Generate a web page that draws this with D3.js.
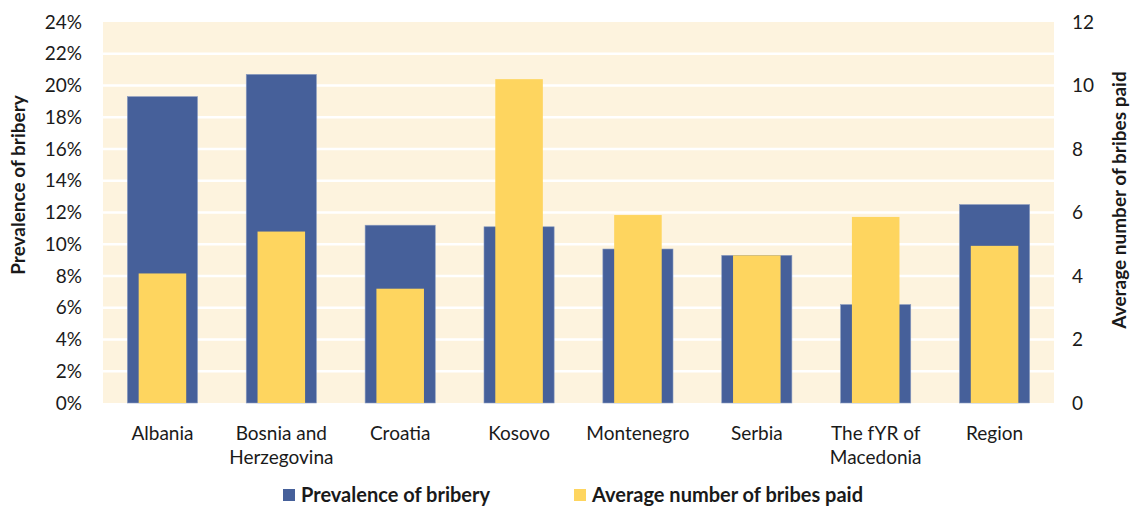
<!DOCTYPE html>
<html>
<head>
<meta charset="utf-8">
<script src="https://cdn.jsdelivr.net/npm/d3@7"></script>
<style>
  body { margin: 0; background: #fff; }
  text { font-family: Lato, "Open Sans", sans-serif; fill: #1a1a1a; }
</style>
</head>
<body>
<div id="chart"></div>
<script>
// data
var countries = ["Albania", "Bosnia and\nHerzegovina", "Croatia", "Kosovo", "Montenegro", "Serbia", "The fYR of\nMacedonia", "Region"];
var prevalence = [0.193, 0.207, 0.112, 0.111, 0.097, 0.093, 0.062, 0.125];
var avgBribes = [4.08, 5.4, 3.6, 10.2, 5.92, 4.65, 5.86, 4.95];
var leftTicks = d3.range(0, 0.2401, 0.02);
var rightTicks = [0, 2, 4, 6, 8, 10, 12];

var width = 1133, height = 509,
    margin = { left: 103, right: 79, top: 22, bottom: 106 };

var innerW = width - margin.left - margin.right,
    innerH = height - margin.top - margin.bottom;

function translate(x, y){
    return "translate(" + x + "," + y + ")";
}

var xScale = d3.scaleBand().domain(countries).range([0, innerW]);
var yLeft = d3.scaleLinear().domain([0, 0.24]).range([innerH, 0]);
var yRight = d3.scaleLinear().domain([0, 12]).range([innerH, 0]);

var svg = d3.select("#chart").append("svg")
    .attr("width", width)
    .attr("height", height);

var g = svg.append("g").attr("transform", translate(margin.left, margin.top));

// background + grid
g.append("rect")
    .attr("width", innerW)
    .attr("height", innerH)
    .attr("fill", "#fdf3de");

g.append("g").selectAll("line")
    .data(leftTicks.slice(1, -1))
    .enter().append("line")
    .attr("x1", 0).attr("x2", innerW)
    .attr("y1", function(d){ return yLeft(d); })
    .attr("y2", function(d){ return yLeft(d); })
    .attr("stroke", "#fff")
    .attr("stroke-width", 2.5);

var bw = xScale.bandwidth();

// prevalence bars (wide, behind)
g.append("g").selectAll("rect")
    .data(prevalence)
    .enter().append("rect")
    .attr("x", function(d, i){ return xScale(countries[i]) + bw * 0.205; })
    .attr("width", bw * 0.59)
    .attr("y", function(d){ return yLeft(d); })
    .attr("height", function(d){ return innerH - yLeft(d); })
    .attr("fill", "#46609a")
    .attr("stroke", "#8a9cc0")
    .attr("stroke-width", 0.6);

// average number of bribes (narrow, front)
g.append("g").selectAll("rect")
    .data(avgBribes)
    .enter().append("rect")
    .attr("x", function(d, i){ return xScale(countries[i]) + bw * 0.3; })
    .attr("width", bw * 0.4)
    .attr("y", function(d){ return yRight(d); })
    .attr("height", function(d){ return innerH - yRight(d); })
    .attr("fill", "#fed55f");

// left axis
var leftAxis = d3.axisLeft(yLeft)
    .tickValues(leftTicks)
    .tickFormat(d3.format(".0%"))
    .tickSize(0)
    .tickPadding(21);
var la = g.append("g").call(leftAxis);
la.select(".domain").remove();
la.selectAll("text").attr("font-size", 19).attr("font-family", null).attr("fill", "#1a1a1a");

// right axis
var rightAxis = d3.axisRight(yRight)
    .tickValues(rightTicks)
    .tickSize(0)
    .tickPadding(18);
var ra = g.append("g").attr("transform", translate(innerW, 0)).call(rightAxis);
ra.select(".domain").remove();
ra.selectAll("text").attr("font-size", 19).attr("font-family", null).attr("fill", "#1a1a1a");

// category labels
var cat = g.append("g").selectAll("text")
    .data(countries)
    .enter().append("text")
    .attr("text-anchor", "middle")
    .attr("font-size", 19)
    .attr("x", function(d){ return xScale(d) + bw / 2; })
    .attr("y", innerH + 37);
cat.each(function(d){
    var lines = d.split("\n");
    var t = d3.select(this);
    lines.forEach(function(l, i){
        t.append("tspan")
            .attr("x", xScale(d) + bw / 2)
            .attr("dy", i === 0 ? 0 : 24)
            .text(l);
    });
});

// axis titles
svg.append("text")
    .attr("transform", "translate(25," + (margin.top + 163) + ") rotate(-90)")
    .attr("text-anchor", "middle")
    .attr("font-size", 19)
    .attr("font-weight", "bold")
    .text("Prevalence of bribery");

svg.append("text")
    .attr("transform", "translate(1126," + (margin.top + 178) + ") rotate(-90)")
    .attr("text-anchor", "middle")
    .attr("font-size", 19)
    .attr("font-weight", "bold")
    .text("Average number of bribes paid");

// legend
var legendItems = [
    { label: "Prevalence of bribery", color: "#46609a", x: 283 },
    { label: "Average number of bribes paid", color: "#fed55f", x: 574 }
];
var legend = svg.append("g").selectAll("g")
    .data(legendItems)
    .enter().append("g")
    .attr("transform", function(d){ return translate(d.x, 489); });
legend.append("rect")
    .attr("width", 12).attr("height", 12)
    .attr("fill", function(d){ return d.color; });
legend.append("text")
    .attr("x", 18)
    .attr("y", 6)
    .attr("dy", "0.35em")
    .attr("font-size", 20)
    .attr("font-weight", "bold")
    .text(function(d){ return d.label; });
</script>
</body>
</html>
